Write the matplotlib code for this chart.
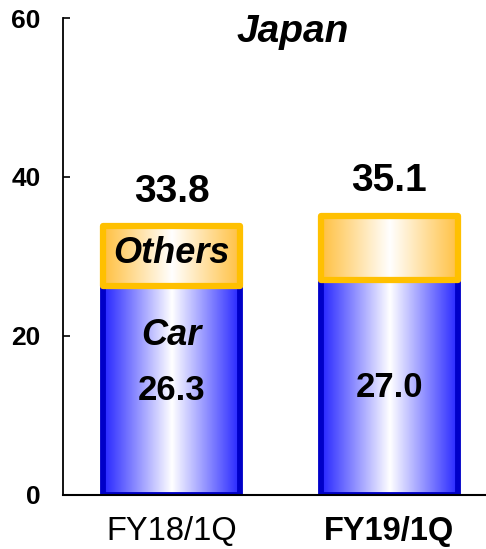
import numpy as np
import matplotlib
matplotlib.use("Agg")
import matplotlib.pyplot as plt
from matplotlib.colors import LinearSegmentedColormap

plt.rcParams['font.family'] = ['Liberation Sans', 'DejaVu Sans']

# Data
periods = ["FY18/1Q", "FY19/1Q"]
car = [26.3, 27.0]
totals = [33.8, 35.1]
others = [t - c for t, c in zip(totals, car)]
yticks = [0, 20, 40, 60]

fig = plt.figure(figsize=(4.86, 5.49), dpi=100)
ax = fig.add_axes([0.1296, 0.0984, 0.8704, 0.8688])

x = np.arange(len(periods))
width = 0.632

blue_cmap = LinearSegmentedColormap.from_list(
    "blue_grad", [(0.0, "#2424ff"), (0.5, "#ffffff"), (1.0, "#2424ff")])
orange_cmap = LinearSegmentedColormap.from_list(
    "orange_grad", [(0.0, "#ffc040"), (0.5, "#ffffff"), (1.0, "#ffc040")])
grad = np.linspace(0, 1, 256).reshape(1, -1)


def gradient_bar(xc, bottom, height, cmap, edge, lw):
    bars = ax.bar(xc, height, width, bottom=bottom, facecolor="none",
                  edgecolor=edge, linewidth=lw, zorder=3, joinstyle="round")
    rect = bars[0]
    im = ax.imshow(grad, cmap=cmap, aspect="auto", zorder=2,
                   extent=[xc - width / 2, xc + width / 2, bottom, bottom + height])
    im.set_clip_path(rect)
    return rect


for i in range(len(periods)):
    gradient_bar(x[i], 0, car[i], blue_cmap, "#0000c8", 4.2)
    gradient_bar(x[i], car[i], others[i], orange_cmap, "#ffc000", 4.5)
    # total above the stack
    ax.annotate(f"{totals[i]:.1f}", (x[i], totals[i]), xytext=(0, 12),
                textcoords="offset points", ha="center", va="bottom",
                fontsize=28, fontweight="bold", zorder=5)
    # car value in the middle of the blue segment
    ax.text(x[i], car[i] / 2, f"{car[i]:.1f}", ha="center", va="center",
            fontsize=25, fontweight="bold", zorder=5)

ax.text(x[0], car[0] + others[0] / 2 + 0.3, "Others", ha="center", va="center",
        fontsize=26, fontweight="bold", fontstyle="italic", zorder=5)
ax.text(x[0], 20.1, "Car", ha="center", va="center",
        fontsize=26, fontweight="bold", fontstyle="italic", zorder=5)

ax.text(0.557, 58.3, "Japan", ha="center", va="center",
        fontsize=28, fontweight="bold", fontstyle="italic")

ax.set_xlim(-0.498, 1.443)
ax.set_ylim(0, 60)
ax.set_yticks(yticks)
ax.set_yticklabels([str(v) for v in yticks], fontsize=19, fontweight="bold")
ax.tick_params(axis="y", direction="in", length=5, width=1.2, pad=16)
ax.set_xticks(x)
ax.set_xticklabels(periods, fontsize=23.5)
ax.get_xticklabels()[1].set_fontweight("bold")
ax.tick_params(axis="x", length=0, pad=15)

for s in ["top", "right"]:
    ax.spines[s].set_visible(False)
ax.spines["left"].set_linewidth(1.3)
ax.spines["bottom"].set_linewidth(1.5)
ax.spines["bottom"].set_zorder(4)

fig.savefig("out.png", dpi=100)
